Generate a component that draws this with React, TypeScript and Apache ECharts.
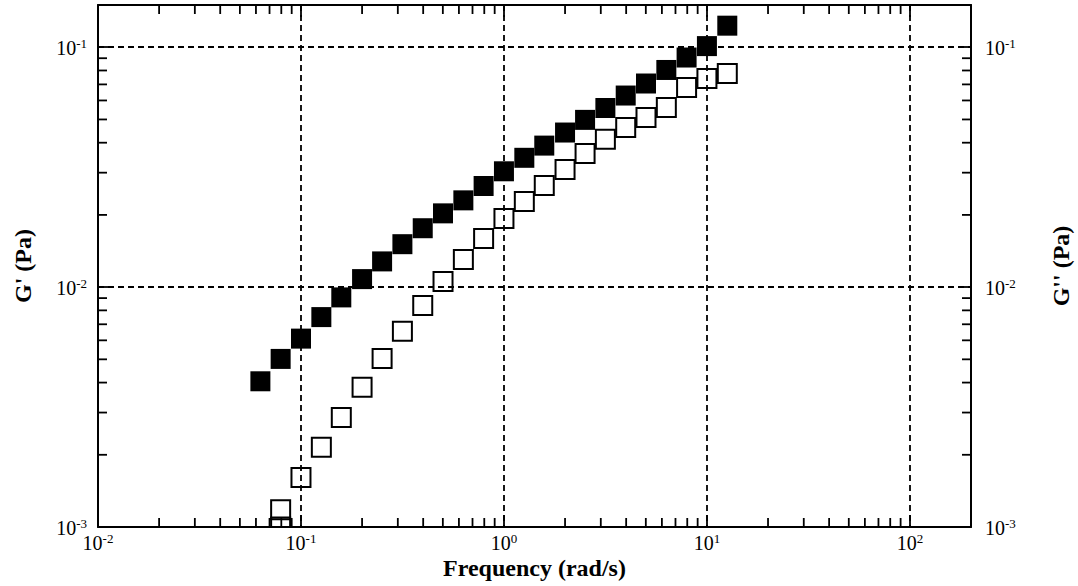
import React, { useEffect, useRef } from "react";
import * as echarts from "echarts";

// Frequency (rad/s) for G' (filled squares)
const freqFilled = [
  0.0631, 0.0794, 0.1, 0.126, 0.158, 0.2, 0.251, 0.316, 0.398, 0.501, 0.631, 0.794,
  1, 1.26, 1.58, 2, 2.51, 3.16, 3.98, 5.01, 6.31, 7.94, 10, 12.6,
];
// G' (Pa)
const gPrime = [
  0.00405, 0.00502, 0.0061, 0.0075, 0.00906, 0.0108, 0.0128, 0.0151, 0.0176, 0.0203, 0.023, 0.0264,
  0.0304, 0.0346, 0.0389, 0.0441, 0.0498, 0.0558, 0.0629, 0.0706, 0.0804, 0.0906, 0.1011, 0.123,
];
// Frequency (rad/s) for G'' (open squares)
const freqHollow = [
  0.0794, 0.0794, 0.1, 0.126, 0.158, 0.2, 0.251, 0.316, 0.398, 0.501, 0.631, 0.794,
  1, 1.26, 1.58, 2, 2.51, 3.16, 3.98, 5.01, 6.31, 7.94, 10, 12.6,
];
// G'' (Pa)
const gDoublePrime = [
  0.001, 0.00118, 0.00161, 0.00215, 0.00286, 0.00382, 0.00504, 0.00654, 0.00839, 0.01056, 0.01304, 0.01596,
  0.0193, 0.02276, 0.0265, 0.0309, 0.0361, 0.0413, 0.0463, 0.051, 0.0561, 0.068, 0.0741, 0.0777,
];
// minor tick positions
const xMinorTicks = [
  0.02, 0.03, 0.04, 0.05, 0.06, 0.07, 0.08, 0.09,
  0.2, 0.3, 0.4, 0.5, 0.6, 0.7, 0.8, 0.9,
  2, 3, 4, 5, 6, 7, 8, 9,
  20, 30, 40, 50, 60, 70, 80, 90,
];
const yMinorTicks = [
  0.002, 0.003, 0.004, 0.005, 0.006, 0.007, 0.008, 0.009,
  0.02, 0.03, 0.04, 0.05, 0.06, 0.07, 0.08, 0.09,
];
const X_MIN = 0.01;
const X_MAX = 200;
const Y_MIN = 0.001;
const Y_MAX = 0.15;

const SERIF = "'Liberation Serif', 'Times New Roman', serif";

const powFormatter = (v: number) => {
  const e = Math.log10(v);
  const r = Math.round(e);
  if (Math.abs(e - r) > 1e-6) return "";
  return `{b|10}{s|${r}}`;
};

const labelRich = {
  b: { fontFamily: SERIF, fontSize: 20, lineHeight: 20, color: "#000", padding: [2, 0, 0, 0] },
  s: { fontFamily: SERIF, fontSize: 13, lineHeight: 13, color: "#000", verticalAlign: "top" },
};

const nameStyle = { fontFamily: SERIF, fontWeight: "bold", fontSize: 24, lineHeight: 24, color: "#000" };

export default function App() {
  const ref = useRef<HTMLDivElement>(null);
  useEffect(() => {
    document.body.style.margin = "0";
    const chart = echarts.init(ref.current!, null, { renderer: "svg" });
    const axisLine = { show: true, onZero: false, lineStyle: { color: "#000", width: 2 } };
    const axisTick = { show: true, inside: true, length: 12, lineStyle: { color: "#000", width: 1.8 } };
    const splitLine = { show: true, lineStyle: { color: "#000", width: 1.8, type: [6, 4] } };

    const option: any = {
      animation: false,
      backgroundColor: "#fff",
      grid: { left: 98, top: 5, right: 107, bottom: 59, containLabel: false, outerBoundsMode: "none" },
      xAxis: [
        {
          type: "log", logBase: 10, min: X_MIN, max: X_MAX, position: "bottom",
          axisLine, axisTick, splitLine,
          axisLabel: { formatter: powFormatter, rich: labelRich, margin: 5, showMaxLabel: false },
          name: "Frequency (rad/s)", nameLocation: "middle", nameGap: 29, nameMoveOverlap: false,
          nameTextStyle: nameStyle,
        },
        {
          type: "log", logBase: 10, min: X_MIN, max: X_MAX, position: "top",
          axisLine, axisTick, splitLine: { show: false }, axisLabel: { show: false },
        },
      ],
      yAxis: [
        {
          type: "log", logBase: 10, min: Y_MIN, max: Y_MAX, position: "left",
          axisLine, axisTick, splitLine,
          axisLabel: { formatter: powFormatter, rich: labelRich, margin: 11, showMaxLabel: false },
          name: "G' (Pa)", nameLocation: "middle", nameRotate: 90, nameGap: 63, nameMoveOverlap: false,
          nameTextStyle: nameStyle,
        },
        {
          type: "log", logBase: 10, min: Y_MIN, max: Y_MAX, position: "right",
          axisLine, axisTick, splitLine: { show: false },
          axisLabel: { formatter: powFormatter, rich: labelRich, margin: 14, showMaxLabel: false },
          name: "G'' (Pa)", nameLocation: "middle", nameRotate: 90, nameGap: 78, nameMoveOverlap: false,
          nameTextStyle: nameStyle,
        },
      ],
      series: [
        {
          type: "custom", xAxisIndex: 0, yAxisIndex: 0, silent: true,
          data: xMinorTicks.map((v) => [v, Y_MIN]),
          encode: { x: 0, y: 1 },
          renderItem: (params: any, api: any) => {
            const x = api.coord([api.value(0), Y_MIN])[0];
            const cs = params.coordSys;
            const bottom = cs.y + cs.height;
            const top = cs.y;
            const st = { stroke: "#000", lineWidth: 1.8 };
            return {
              type: "group",
              children: [
                { type: "line", shape: { x1: x, y1: bottom, x2: x, y2: bottom - 9 }, style: st },
                { type: "line", shape: { x1: x, y1: top, x2: x, y2: top + 9 }, style: st },
              ],
            };
          },
        },
        {
          type: "custom", xAxisIndex: 0, yAxisIndex: 0, silent: true,
          data: yMinorTicks.map((v) => [X_MIN, v]),
          encode: { x: 0, y: 1 },
          renderItem: (params: any, api: any) => {
            const y = api.coord([X_MIN, api.value(1)])[1];
            const cs = params.coordSys;
            const left = cs.x;
            const right = cs.x + cs.width;
            const st = { stroke: "#000", lineWidth: 1.8 };
            return {
              type: "group",
              children: [
                { type: "line", shape: { x1: left, y1: y, x2: left + 9, y2: y }, style: st },
                { type: "line", shape: { x1: right, y1: y, x2: right - 9, y2: y }, style: st },
              ],
            };
          },
        },
        {
          name: "G'", type: "scatter", xAxisIndex: 0, yAxisIndex: 0,
          symbol: "rect", symbolSize: 20,
          itemStyle: { color: "#000", opacity: 1 },
          data: freqFilled.map((f, i) => [f, gPrime[i]]),
        },
        {
          name: "G''", type: "custom", xAxisIndex: 0, yAxisIndex: 0, clip: true,
          encode: { x: 0, y: 1 },
          data: freqHollow.map((f, i) => [f, gDoublePrime[i]]),
          renderItem: (params: any, api: any) => {
            const p = api.coord([api.value(0), api.value(1)]);
            return {
              type: "rect",
              shape: { x: p[0] - 9.5, y: p[1] - 9.5, width: 19, height: 19 },
              style: { fill: "transparent", stroke: "#000", lineWidth: 2 },
            };
          },
        },
      ],
    };
    chart.setOption(option);
    return () => chart.dispose();
  }, []);
  return <div ref={ref} style={{ width: 1078, height: 586 }} />;
}
